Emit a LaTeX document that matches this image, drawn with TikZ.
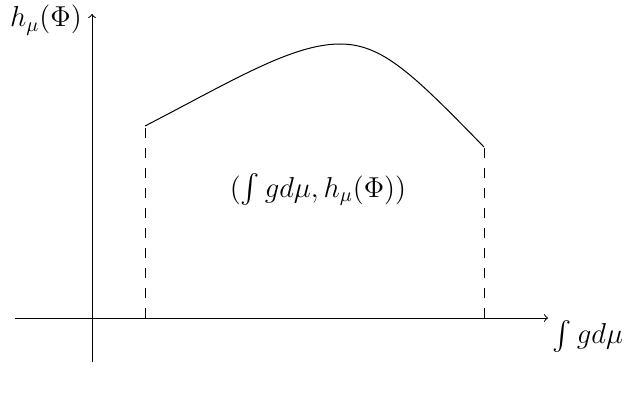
\documentclass[tikz,border=0pt]{standalone}
\usepackage{amsmath,amssymb}
\usetikzlibrary{arrows, positioning}

\begin{document}
\begin{tikzpicture}[
  x=0.5pt, y=0.5pt,
  every node/.style={font=\Large},
  axis/.style={->, line width=0.5pt},
  bound/.style={dash pattern=on 5pt off 5pt, line width=0.5pt},
  graph/.style={line width=0.5pt}
]
\useasboundingbox (-92,-78) rectangle (539,318);

% Axes
\coordinate (xstart) at (-77,0);
\coordinate (xend) at (456,0);
\coordinate (ystart) at (0,-44);
\coordinate (yend) at (0,304);
\draw[axis] (xstart) -- (xend);
\draw[axis] (ystart) -- (yend);
\node (ylabel) at (-46,298) {$h_\mu(\Phi)$};
\node (xlabel) at (496,-18) {$\int g d\mu$};

% Bounds and curve
\coordinate (lfoot) at (53,0);
\coordinate (rfoot) at (392,0);
\coordinate (ltop) at (53,192);
\coordinate (peak) at (248,274);
\coordinate (rtop) at (392,171);
\draw[bound] (lfoot) -- (ltop);
\draw[bound] (rfoot) -- (rtop);
\draw[graph] (ltop) .. controls (140,237) and (200,274) .. (peak)
  .. controls (290,274) and (320,245) .. (rtop);

% Label
\node (point) at (226,128) {$(\int g d\mu, h_\mu(\Phi))$};
\end{tikzpicture}
\end{document}
